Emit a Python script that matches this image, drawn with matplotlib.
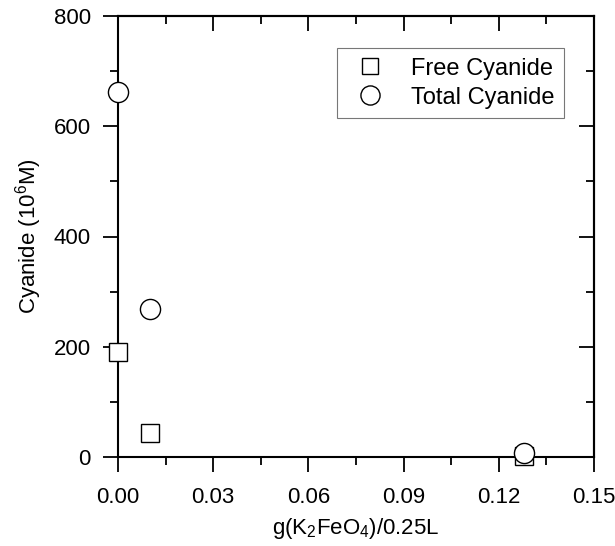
import matplotlib
matplotlib.use("Agg")
import matplotlib.pyplot as plt
from matplotlib.ticker import MultipleLocator

plt.rcParams['font.family'] = ['Liberation Sans', 'DejaVu Sans']
plt.rcParams['mathtext.fontset'] = 'custom'
plt.rcParams['mathtext.rm'] = 'Liberation Sans'
plt.rcParams['mathtext.it'] = 'Liberation Sans'

free_x = [0.0, 0.01, 0.128]
free_y = [190, 44, 2]
total_x = [0.0, 0.01, 0.128]
total_y = [662, 268, 8]
x_ticks = [0.00, 0.03, 0.06, 0.09, 0.12, 0.15]
x_labels = ["0.00", "0.03", "0.06", "0.09", "0.12", "0.15"]
y_ticks = [0, 200, 400, 600, 800]

FS = 16

fig = plt.figure(figsize=(6.15, 5.46), dpi=100)
ax = fig.add_axes([118 / 615, 1 - 457 / 546, (594 - 118) / 615, (457 - 16) / 546])

ax.plot(free_x, free_y, linestyle='none', marker='s', markersize=12.5,
        markerfacecolor='white', markeredgecolor='black', markeredgewidth=1.0,
        label='Free Cyanide', clip_on=False, zorder=3)
ax.plot(total_x, total_y, linestyle='none', marker='o', markersize=14.5,
        markerfacecolor='white', markeredgecolor='black', markeredgewidth=1.0,
        label='Total Cyanide', clip_on=False, zorder=4)

ax.set_xlim(0, 0.15)
ax.set_ylim(0, 800)
ax.set_xticks(x_ticks)
ax.set_xticklabels(x_labels)
ax.set_yticks(y_ticks)
ax.xaxis.set_minor_locator(MultipleLocator(0.015))
ax.yaxis.set_minor_locator(MultipleLocator(100))

for s in ax.spines.values():
    s.set_linewidth(1.5)

ax.tick_params(axis='both', which='major', labelsize=FS, width=1.3, length=10.5,
               direction='out', top=False, right=False)
ax.tick_params(axis='both', which='minor', width=1.3, length=6,
               direction='out', top=False, right=False)
ax.tick_params(axis='x', which='major', pad=11)
ax.tick_params(axis='y', which='major', pad=9)

# inward ticks on top and right
ax2 = ax.secondary_xaxis('top')
ax2.set_xticks(x_ticks)
ax2.xaxis.set_minor_locator(MultipleLocator(0.015))
ax2.tick_params(which='major', direction='in', length=10.5, width=1.3, labeltop=False)
ax2.tick_params(which='minor', direction='in', length=6, width=1.3)
ax2.spines['top'].set_linewidth(1.5)
ax3 = ax.secondary_yaxis('right')
ax3.set_yticks(y_ticks)
ax3.yaxis.set_minor_locator(MultipleLocator(100))
ax3.tick_params(which='major', direction='in', length=10.5, width=1.3, labelright=False)
ax3.tick_params(which='minor', direction='in', length=6, width=1.3)
ax3.spines['right'].set_linewidth(1.5)

ax.set_xlabel(r'g(K$_2$FeO$_4$)/0.25L', fontsize=FS, labelpad=6)
ax.set_ylabel(r'Cyanide (10$^6$M)', fontsize=FS, labelpad=7)

leg = ax.legend(loc='upper right', bbox_to_anchor=(0.937, 0.927), fontsize=17,
                frameon=True, fancybox=False, edgecolor='#555555',
                handletextpad=0.72, borderpad=0.4, borderaxespad=0,
                labelspacing=0.3, handlelength=2.0, markerscale=0.95)
leg.get_frame().set_linewidth(0.8)

fig.savefig('out.png', dpi=100)
